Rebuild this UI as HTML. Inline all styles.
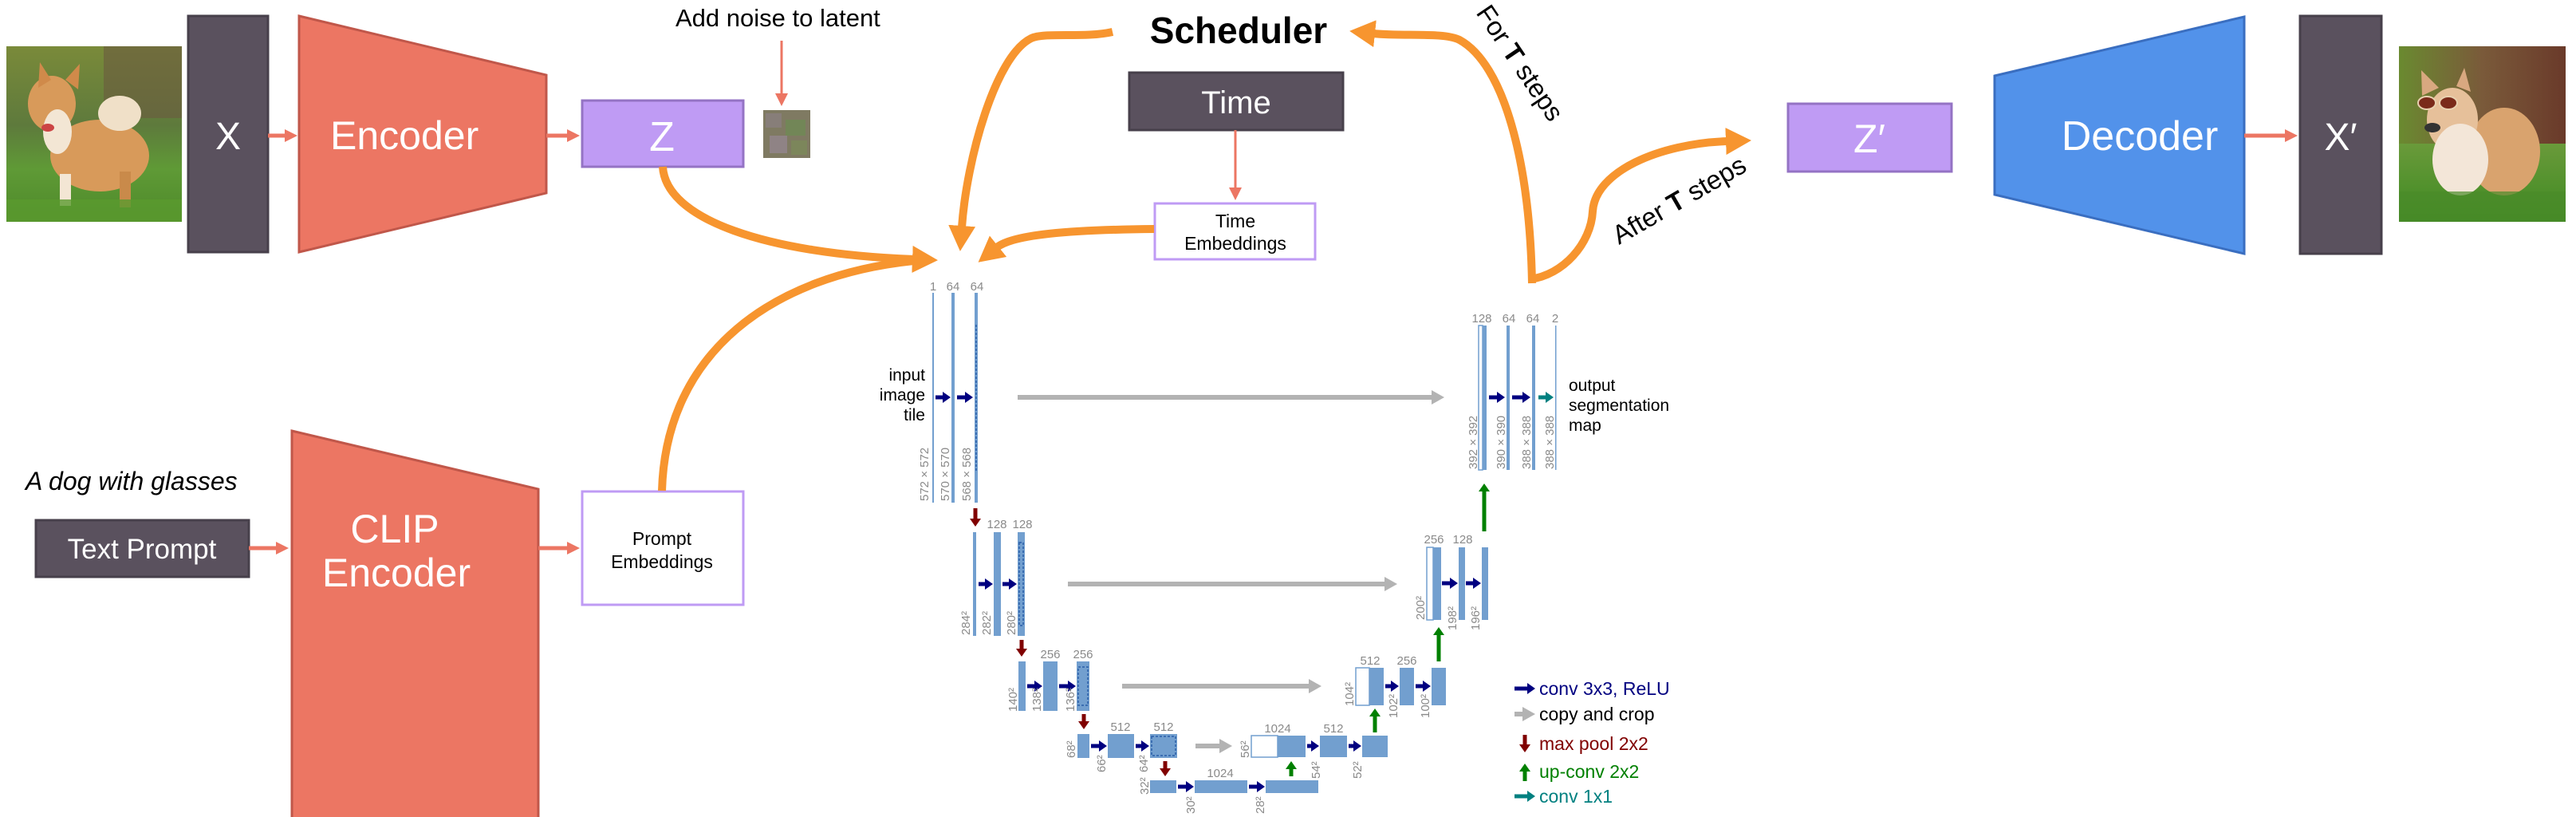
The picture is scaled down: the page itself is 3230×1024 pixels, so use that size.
<!DOCTYPE html>
<html><head><meta charset="utf-8"><style>
html,body{margin:0;padding:0;background:#fff;}
svg{display:block;}
text{font-family:"Liberation Sans",sans-serif;}
.w{fill:#fff;}
.g{fill:#8a8a8a;font-size:15px;}
.lg{font-size:23px;}
</style></head><body>
<svg width="3230" height="1024" viewBox="0 0 3230 1024" xmlns="http://www.w3.org/2000/svg">
<defs>
<marker id="mo" markerWidth="32" markerHeight="34" refX="2" refY="17" orient="auto" markerUnits="userSpaceOnUse"><path d="M0,0 L32,17 L0,34z" fill="#F7952F"/></marker>
<marker id="ms" markerWidth="16" markerHeight="16" refX="1" refY="8" orient="auto" markerUnits="userSpaceOnUse"><path d="M0,0 L16,8 L0,16z" fill="#EC7663"/></marker>
<marker id="mn" markerWidth="10" markerHeight="14" refX="0" refY="7" orient="auto" markerUnits="userSpaceOnUse"><path d="M0,0 L10,7 L0,14z" fill="#000080"/></marker>
<marker id="mt" markerWidth="10" markerHeight="14" refX="0" refY="7" orient="auto" markerUnits="userSpaceOnUse"><path d="M0,0 L10,7 L0,14z" fill="#008080"/></marker>
<marker id="mg" markerWidth="16" markerHeight="18" refX="0" refY="9" orient="auto" markerUnits="userSpaceOnUse"><path d="M0,0 L16,9 L0,18z" fill="#b3b3b3"/></marker>
<marker id="mr" markerWidth="10" markerHeight="14" refX="0" refY="7" orient="auto" markerUnits="userSpaceOnUse"><path d="M0,0 L10,7 L0,14z" fill="#800000"/></marker>
<marker id="mgr" markerWidth="10" markerHeight="14" refX="0" refY="7" orient="auto" markerUnits="userSpaceOnUse"><path d="M0,0 L10,7 L0,14z" fill="#008000"/></marker>
<linearGradient id="bg1" x1="0" y1="0" x2="0" y2="1"><stop offset="0" stop-color="#7a8a3a"/><stop offset="0.45" stop-color="#5e7a3c"/><stop offset="0.7" stop-color="#5f9a36"/><stop offset="1" stop-color="#4e8a2a"/></linearGradient>
<linearGradient id="bg2" x1="0" y1="0" x2="1" y2="0"><stop offset="0" stop-color="#6a8a30"/><stop offset="0.5" stop-color="#7a5a3a"/><stop offset="1" stop-color="#6a3a2a"/></linearGradient>
<linearGradient id="gr2" x1="0" y1="0" x2="0" y2="1"><stop offset="0" stop-color="#6a9a3a"/><stop offset="1" stop-color="#3e8a22"/></linearGradient>
</defs>

<!-- Dog 1 -->
<rect x="8" y="58" width="220" height="220" fill="url(#bg1)"/>
<rect x="130" y="58" width="98" height="90" fill="#6b5a40" opacity="0.6"/>
<ellipse cx="125" cy="195" rx="62" ry="45" fill="#d89a5a"/>
<ellipse cx="150" cy="142" rx="27" ry="22" fill="#f0e0c8"/>
<ellipse cx="65" cy="130" rx="30" ry="35" fill="#d89a5a"/>
<ellipse cx="72" cy="165" rx="18" ry="28" fill="#f3e6d4"/>
<path d="M48,110 L50,78 L64,100z M82,100 L100,80 L98,112z" fill="#d08a4a"/>
<rect x="75" y="218" width="14" height="40" fill="#f3e6d4"/>
<rect x="150" y="215" width="14" height="45" fill="#c98a4a"/>
<ellipse cx="60" cy="160" rx="8" ry="5" fill="#c44"/>
<rect x="8" y="250" width="220" height="28" fill="#5a9a2e" opacity="0.8"/>

<!-- X box -->
<rect x="236" y="20" width="100" height="296" fill="#5A515E" stroke="#47404B" stroke-width="3"/>
<text x="286" y="187" class="w" font-size="48" text-anchor="middle">X</text>
<line x1="336" y1="170" x2="358" y2="170" stroke="#EC7663" stroke-width="5" marker-end="url(#ms)"/>
<!-- Encoder -->
<polygon points="375,20 685,94 685,242 375,316" fill="#EC7663" stroke="#C0574A" stroke-width="3"/>
<text x="414" y="187" class="w" font-size="50">Encoder</text>
<line x1="685" y1="170" x2="712" y2="170" stroke="#EC7663" stroke-width="5" marker-end="url(#ms)"/>
<!-- Z -->
<rect x="730" y="126" width="202" height="83" fill="#BF9BF4" stroke="#9473C4" stroke-width="3"/>
<text x="830" y="189" class="w" font-size="52" text-anchor="middle">Z</text>
<!-- noise -->
<rect x="957" y="138" width="59" height="60" fill="#7f7a62"/>
<rect x="960" y="142" width="20" height="18" fill="#8a7f80" opacity="0.8"/>
<rect x="985" y="150" width="25" height="20" fill="#6f8a55" opacity="0.8"/>
<rect x="965" y="170" width="22" height="22" fill="#94868f" opacity="0.8"/>
<rect x="992" y="176" width="20" height="18" fill="#7c8a5a" opacity="0.8"/>
<text x="847" y="33" font-size="31" fill="#000">Add noise to latent</text>
<line x1="980" y1="51" x2="980" y2="118" stroke="#EC7663" stroke-width="3" marker-end="url(#ms)"/>

<!-- Prompt side -->
<text x="32" y="614" font-size="32" font-style="italic" fill="#000">A dog with glasses</text>
<rect x="45" y="652" width="267" height="71" fill="#5A515E" stroke="#47404B" stroke-width="3"/>
<text x="178" y="700" class="w" font-size="35" text-anchor="middle">Text Prompt</text>
<line x1="312" y1="687" x2="347" y2="687" stroke="#EC7663" stroke-width="5" marker-end="url(#ms)"/>
<polygon points="366,540 675,613 675,1030 366,1030" fill="#EC7663" stroke="#C0574A" stroke-width="3"/>
<text x="495" y="680" class="w" font-size="50" text-anchor="middle">CLIP</text>
<text x="497" y="735" class="w" font-size="50" text-anchor="middle">Encoder</text>
<line x1="675" y1="687" x2="712" y2="687" stroke="#EC7663" stroke-width="5" marker-end="url(#ms)"/>
<rect x="730" y="616" width="202" height="142" fill="#fff" stroke="#BF9BF4" stroke-width="3"/>
<text x="830" y="683" font-size="23" text-anchor="middle">Prompt</text>
<text x="830" y="712" font-size="23" text-anchor="middle">Embeddings</text>

<!-- Scheduler / Time -->
<text x="1553" y="54" font-size="46" font-weight="bold" text-anchor="middle">Scheduler</text>
<rect x="1416" y="91" width="268" height="72" fill="#5A515E" stroke="#47404B" stroke-width="3"/>
<text x="1550" y="142" class="w" font-size="40" text-anchor="middle">Time</text>
<line x1="1549" y1="163" x2="1549" y2="236" stroke="#EC7663" stroke-width="3" marker-end="url(#ms)"/>
<rect x="1448" y="255" width="201" height="70" fill="#fff" stroke="#BF9BF4" stroke-width="3"/>
<text x="1549" y="285" font-size="23" text-anchor="middle">Time</text>
<text x="1549" y="313" font-size="23" text-anchor="middle">Embeddings</text>

<!-- orange curves -->
<g fill="none" stroke="#F7952F" stroke-width="10">
<path d="M831,209 C835,275 960,318 1146,325" marker-end="url(#mo)"/>
<path d="M830,615 C835,440 970,345 1146,327"/>
<path d="M1395,40 C1360,48 1310,40 1293,48 C1248,70 1212,200 1206,285" marker-end="url(#mo)"/>
<path d="M1447,287 C1340,288 1270,294 1250,310" marker-end="url(#mo)"/>
<path d="M1921,355 C1918,200 1885,80 1830,50 C1810,40 1760,46 1722,42" marker-end="url(#mo)"/>
<path d="M1918,350 C1960,345 1995,305 1997,265 C2000,215 2080,180 2166,177" marker-end="url(#mo)"/>
</g>
<text transform="translate(1850,16) rotate(56)" font-size="33">For <tspan font-weight="bold">T</tspan> steps</text>
<text transform="translate(2030,307) rotate(-30)" font-size="33">After <tspan font-weight="bold">T</tspan> steps</text>

<!-- Z' -->
<rect x="2242" y="130" width="205" height="85" fill="#BF9BF4" stroke="#9473C4" stroke-width="3"/>
<text x="2344" y="191" class="w" font-size="50" text-anchor="middle">Z′</text>
<!-- Decoder -->
<polygon points="2501,95 2814,21 2814,318 2501,244" fill="#5292EA" stroke="#3A6EC0" stroke-width="3"/>
<text x="2683" y="188" class="w" font-size="52" text-anchor="middle">Decoder</text>
<line x1="2814" y1="170" x2="2866" y2="170" stroke="#EC7663" stroke-width="5" marker-end="url(#ms)"/>
<rect x="2884" y="20" width="102" height="298" fill="#5A515E" stroke="#47404B" stroke-width="3"/>
<text x="2935" y="188" class="w" font-size="48" text-anchor="middle">X′</text>
<!-- Dog 2 -->
<rect x="3008" y="58" width="209" height="220" fill="url(#bg2)"/>
<rect x="3008" y="180" width="209" height="98" fill="url(#gr2)"/>
<ellipse cx="3140" cy="190" rx="45" ry="55" fill="#d9a36e"/>
<ellipse cx="3075" cy="150" rx="32" ry="40" fill="#e6c09a"/>
<path d="M3037,120 L3036,88 L3058,110z M3080,108 L3090,85 L3098,115z" fill="#d8a880"/>
<ellipse cx="3085" cy="200" rx="35" ry="45" fill="#f3e6d8"/>
<ellipse cx="3043" cy="129" rx="11" ry="8" fill="#7a2a1a" stroke="#e8d0b0" stroke-width="2"/>
<ellipse cx="3070" cy="129" rx="11" ry="8" fill="#7a2a1a" stroke="#e8d0b0" stroke-width="2"/>
<ellipse cx="3050" cy="160" rx="10" ry="6" fill="#333"/>
<rect x="3008" y="240" width="209" height="38" fill="#4a8a2a" opacity="0.7"/>

<!-- U-Net -->
<g fill="#729fcf">
<!-- L1 left -->
<rect x="1169" y="367" width="2" height="263"/>
<rect x="1193" y="367" width="4" height="263"/>
<rect x="1222" y="367" width="4" height="263"/>
<!-- L2 left -->
<rect x="1220" y="667" width="4" height="130"/>
<rect x="1246" y="667" width="9" height="130"/>
<rect x="1276" y="667" width="9" height="130"/>
<!-- L3 left -->
<rect x="1277" y="829" width="9" height="62"/>
<rect x="1308" y="829" width="18" height="62"/>
<rect x="1350" y="829" width="16" height="62"/>
<!-- L4 left -->
<rect x="1351" y="920" width="15" height="30"/>
<rect x="1389" y="920" width="33" height="30"/>
<rect x="1442" y="920" width="34" height="30"/>
<!-- L5 -->
<rect x="1442" y="978" width="33" height="16"/>
<rect x="1498" y="978" width="66" height="16"/>
<rect x="1587" y="978" width="66" height="16"/>
<!-- L4 right -->
<rect x="1602" y="922" width="35" height="27"/>
<rect x="1655" y="922" width="34" height="27"/>
<rect x="1708" y="922" width="32" height="27"/>
<!-- L3 right -->
<rect x="1717" y="837" width="18" height="47"/>
<rect x="1755" y="837" width="18" height="47"/>
<rect x="1795" y="837" width="18" height="47"/>
<!-- L2 right -->
<rect x="1797" y="686" width="10" height="91"/>
<rect x="1829" y="686" width="8" height="91"/>
<rect x="1858" y="686" width="8" height="91"/>
<!-- L1 right -->
<rect x="1859" y="408" width="5" height="181"/>
<rect x="1889" y="408" width="4" height="181"/>
<rect x="1921" y="408" width="4" height="181"/>
<rect x="1950" y="408" width="1.5" height="181"/>
</g>
<g fill="#fff" stroke="#729fcf" stroke-width="1.5">
<rect x="1569" y="922" width="33" height="27"/>
<rect x="1700" y="837" width="17" height="47"/>
<rect x="1789" y="686" width="8" height="91"/>
<rect x="1854" y="408" width="5" height="181"/>
</g>
<g fill="none" stroke="#2a5fa8" stroke-width="1.5" stroke-dasharray="3,2">
<line x1="1224" y1="407" x2="1224" y2="590"/>
<rect x="1278" y="680" width="5" height="104"/>
<rect x="1352" y="836" width="12" height="48"/>
<rect x="1444" y="923" width="30" height="24"/>
</g>
<!-- navy arrows -->
<g stroke="#000080" stroke-width="5" marker-end="url(#mn)">
<line x1="1173" y1="498" x2="1182" y2="498"/>
<line x1="1200" y1="498" x2="1210" y2="498"/>
<line x1="1227" y1="732" x2="1235" y2="732"/>
<line x1="1257" y1="732" x2="1265" y2="732"/>
<line x1="1288" y1="860" x2="1297" y2="860"/>
<line x1="1328" y1="860" x2="1339" y2="860"/>
<line x1="1368" y1="935" x2="1378" y2="935"/>
<line x1="1424" y1="935" x2="1431" y2="935"/>
<line x1="1477" y1="986" x2="1487" y2="986"/>
<line x1="1566" y1="986" x2="1576" y2="986"/>
<line x1="1639" y1="935" x2="1644" y2="935"/>
<line x1="1691" y1="935" x2="1697" y2="935"/>
<line x1="1737" y1="860" x2="1744" y2="860"/>
<line x1="1775" y1="860" x2="1784" y2="860"/>
<line x1="1808" y1="731" x2="1818" y2="731"/>
<line x1="1838" y1="731" x2="1847" y2="731"/>
<line x1="1867" y1="498" x2="1877" y2="498"/>
<line x1="1896" y1="498" x2="1909" y2="498"/>
<line x1="1899" y1="863" x2="1915" y2="863"/>
</g>
<g stroke="#008080" stroke-width="5" marker-end="url(#mt)">
<line x1="1929" y1="498" x2="1938" y2="498"/>
<line x1="1899" y1="998" x2="1915" y2="998"/>
</g>
<!-- gray arrows -->
<g stroke="#b3b3b3" stroke-width="6" marker-end="url(#mg)">
<line x1="1276" y1="498" x2="1795" y2="498"/>
<line x1="1339" y1="732" x2="1736" y2="732"/>
<line x1="1407" y1="860" x2="1641" y2="860"/>
<line x1="1499" y1="935" x2="1529" y2="935"/>
<line x1="1899" y1="895" x2="1909" y2="895"/>
</g>
<!-- red arrows -->
<g stroke="#800000" stroke-width="5" marker-end="url(#mr)">
<line x1="1223" y1="637" x2="1223" y2="650"/>
<line x1="1281" y1="802" x2="1281" y2="813"/>
<line x1="1359" y1="895" x2="1359" y2="904"/>
<line x1="1461" y1="954" x2="1461" y2="963"/>
<line x1="1912" y1="921" x2="1912" y2="933"/>
</g>
<g stroke="#008000" stroke-width="5" marker-end="url(#mgr)">
<line x1="1619" y1="973" x2="1619" y2="964"/>
<line x1="1724" y1="918" x2="1724" y2="898"/>
<line x1="1804" y1="829" x2="1804" y2="796"/>
<line x1="1861" y1="666" x2="1861" y2="616"/>
<line x1="1912" y1="979" x2="1912" y2="967"/>
</g>
<!-- top labels -->
<g class="g" text-anchor="middle">
<text x="1170" y="364">1</text><text x="1195" y="364">64</text><text x="1225" y="364">64</text>
<text x="1250" y="662">128</text><text x="1282" y="662">128</text>
<text x="1317" y="825">256</text><text x="1358" y="825">256</text>
<text x="1405" y="916">512</text><text x="1459" y="916">512</text>
<text x="1530" y="974">1024</text>
<text x="1602" y="918">1024</text><text x="1672" y="918">512</text>
<text x="1718" y="833">512</text><text x="1764" y="833">256</text>
<text x="1798" y="681">256</text><text x="1834" y="681">128</text>
<text x="1858" y="404">128</text><text x="1892" y="404">64</text><text x="1922" y="404">64</text><text x="1950" y="404">2</text>
</g>
<!-- rotated size labels -->
<g class="g">
<text transform="translate(1164,628) rotate(-90)">572 × 572</text>
<text transform="translate(1190,628) rotate(-90)">570 × 570</text>
<text transform="translate(1217,628) rotate(-90)">568 × 568</text>
<text transform="translate(1216,796) rotate(-90)">284²</text>
<text transform="translate(1242,796) rotate(-90)">282²</text>
<text transform="translate(1273,796) rotate(-90)">280²</text>
<text transform="translate(1275,892) rotate(-90)">140²</text>
<text transform="translate(1305,892) rotate(-90)">138²</text>
<text transform="translate(1347,892) rotate(-90)">136²</text>
<text transform="translate(1348,950) rotate(-90)">68²</text>
<text transform="translate(1386,968) rotate(-90)">66²</text>
<text transform="translate(1439,968) rotate(-90)">64²</text>
<text transform="translate(1440,996) rotate(-90)">32²</text>
<text transform="translate(1498,1020) rotate(-90)">30²</text>
<text transform="translate(1585,1020) rotate(-90)">28²</text>
<text transform="translate(1566,950) rotate(-90)">56²</text>
<text transform="translate(1655,976) rotate(-90)">54²</text>
<text transform="translate(1707,976) rotate(-90)">52²</text>
<text transform="translate(1697,885) rotate(-90)">104²</text>
<text transform="translate(1752,900) rotate(-90)">102²</text>
<text transform="translate(1792,900) rotate(-90)">100²</text>
<text transform="translate(1786,777) rotate(-90)">200²</text>
<text transform="translate(1826,790) rotate(-90)">198²</text>
<text transform="translate(1855,790) rotate(-90)">196²</text>
<text transform="translate(1852,588) rotate(-90)">392 × 392</text>
<text transform="translate(1887,588) rotate(-90)">390 × 390</text>
<text transform="translate(1919,588) rotate(-90)">388 × 388</text>
<text transform="translate(1948,588) rotate(-90)">388 × 388</text>
</g>
<g font-size="21" fill="#000">
<text x="1160" y="477" text-anchor="end">input</text>
<text x="1160" y="502" text-anchor="end">image</text>
<text x="1160" y="527" text-anchor="end">tile</text>
<text x="1967" y="490">output</text>
<text x="1967" y="515">segmentation</text>
<text x="1967" y="540">map</text>
</g>
<!-- legend -->
<text x="1930" y="871" class="lg" fill="#000080">conv 3x3, ReLU</text>
<text x="1930" y="903" class="lg" fill="#000">copy and crop</text>
<text x="1930" y="940" class="lg" fill="#800000">max pool 2x2</text>
<text x="1930" y="975" class="lg" fill="#008000">up-conv 2x2</text>
<text x="1930" y="1006" class="lg" fill="#008080">conv 1x1</text>
</svg>
</body></html>
